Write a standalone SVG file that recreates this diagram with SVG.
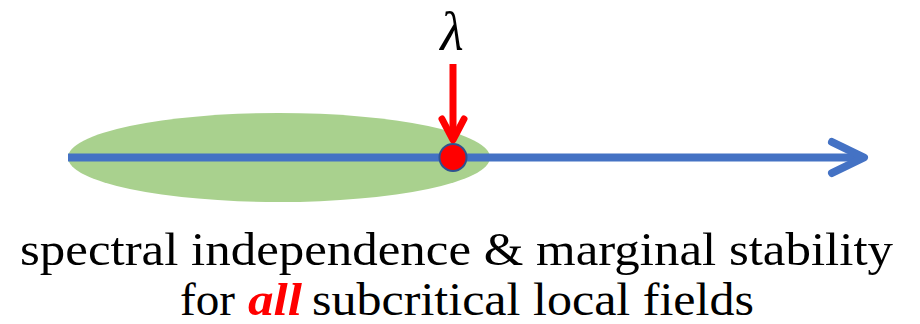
<svg xmlns="http://www.w3.org/2000/svg" width="920" height="324" viewBox="0 0 920 324">
<style>
.t{font-family:"Liberation Serif","DejaVu Serif",serif;font-size:46px;fill:#000}
.lam{font-family:"Liberation Serif","DejaVu Serif",serif;font-size:54px;font-style:italic;fill:#000}
.b{stroke:#4472C4;stroke-width:8;fill:none;stroke-linecap:round;stroke-linejoin:round}
.r{stroke:#FF0000;stroke-width:7;fill:none;stroke-linecap:round;stroke-linejoin:round}
</style>
<g id="region"><ellipse cx="279" cy="157.5" rx="211" ry="44.5" fill="#A9D18E"/></g>
<g id="connectors">
<line class="b" x1="68" y1="157.5" x2="862" y2="157.5" style="stroke-linecap:butt"/>
<polyline class="b" points="832,142 864,157.5 832,173"/>
<line class="r" x1="453" y1="64" x2="453" y2="139" style="stroke-linecap:butt"/>
<polyline class="r" points="442,119 453,140 464,119"/>
</g>
<g id="point"><circle cx="453" cy="157.5" r="13.5" fill="#FF0000" stroke="#2F528F" stroke-width="2"/></g>
<g id="lambda"><text class="lam" x="452" y="50" text-anchor="middle">λ</text></g>
<g id="caption">
<text class="t" x="20" y="265" textLength="873" lengthAdjust="spacingAndGlyphs">spectral independence &amp; marginal stability</text>
<text class="t" x="180" y="315" textLength="55" lengthAdjust="spacingAndGlyphs">for</text>
<text class="t" x="248" y="315" textLength="54" lengthAdjust="spacingAndGlyphs" style="fill:#FF0000;font-weight:bold;font-style:italic">all</text>
<text class="t" x="312" y="315" textLength="442" lengthAdjust="spacingAndGlyphs">subcritical local fields</text>
</g>
</svg>
